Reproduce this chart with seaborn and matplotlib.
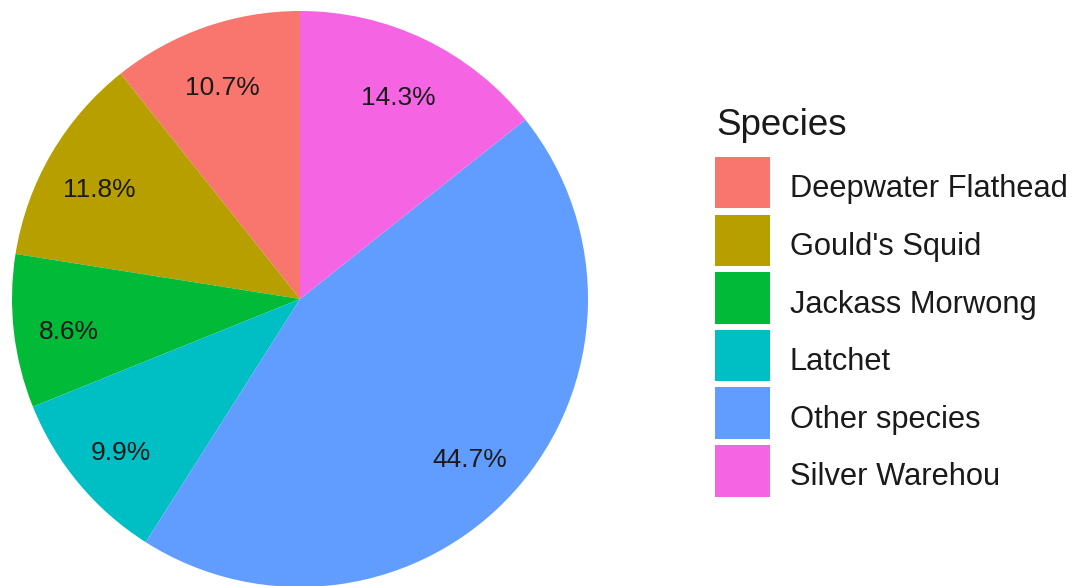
import matplotlib
matplotlib.use("Agg")
import matplotlib.pyplot as plt
import matplotlib.patches as mpatches
import matplotlib.transforms as mtransforms
import numpy as np
import seaborn as sns

species = ["Deepwater Flathead", "Gould's Squid", "Jackass Morwong",
           "Latchet", "Other species", "Silver Warehou"]
share_pct = [10.7, 11.8, 8.6, 9.9, 44.7, 14.3]
palette_hex = ["#F8766D", "#B79F00", "#00BA38", "#00BFC4", "#619CFF", "#F564E3"]

sns.set_theme(style="white")
plt.rcParams["font.family"] = ["Liberation Sans", "DejaVu Sans"]

colors = sns.color_palette(palette_hex)

W, H = 1076, 586
fig = plt.figure(figsize=(W / 100, H / 100), dpi=100)
fig.patch.set_facecolor("white")

# pie axes: centre (300, 299) px, radius 288 px
cx, cy, r = 300, 299, 288
ax = fig.add_axes([(cx - r) / W, (H - cy - r) / H, 2 * r / W, 2 * r / H])

wedges, _ = ax.pie(share_pct, colors=colors, startangle=90, counterclock=True,
                   radius=1, center=(0, 0), frame=False,
                   wedgeprops=dict(linewidth=0, antialiased=True))
ax.set_xlim(-1, 1)
ax.set_ylim(-1, 1)
ax.set_aspect("equal")
ax.axis("off")

# percentage labels at 0.8 of the radius, nudged slightly down-left
label_tr = mtransforms.offset_copy(ax.transData, fig=fig, x=-2, y=-7, units="dots")
cum = np.cumsum([0] + share_pct[:-1])
for start, val in zip(cum, share_pct):
    mid = np.deg2rad(90 + (start + val / 2) / 100 * 360)
    ax.text(0.8 * np.cos(mid), 0.8 * np.sin(mid), f"{val:.1f}%",
            ha="center", va="center", fontsize=19, color="#1a1a1a",
            transform=label_tr)

# legend title drawn as its own text so its gap to the keys can be set
fig.text(716 / W, 1 - 135 / H, "Species", ha="left", va="baseline",
         fontsize=26.5, color="#1a1a1a")

handles = [mpatches.Patch(facecolor=c, edgecolor="none") for c in colors]
leg = fig.legend(handles, species,
                 loc="upper left", bbox_to_anchor=(715 / W, 1 - 157 / H),
                 frameon=False, fontsize=22.2,
                 handlelength=1.77, handleheight=2.19, labelspacing=0.2,
                 handletextpad=0.65, borderpad=0, borderaxespad=0)
for t in leg.get_texts():
    t.set_color("#1a1a1a")
    t.set_transform(t.get_transform() + mtransforms.Affine2D().translate(0, -5))

fig.savefig("out.png", dpi=100, facecolor="white")
